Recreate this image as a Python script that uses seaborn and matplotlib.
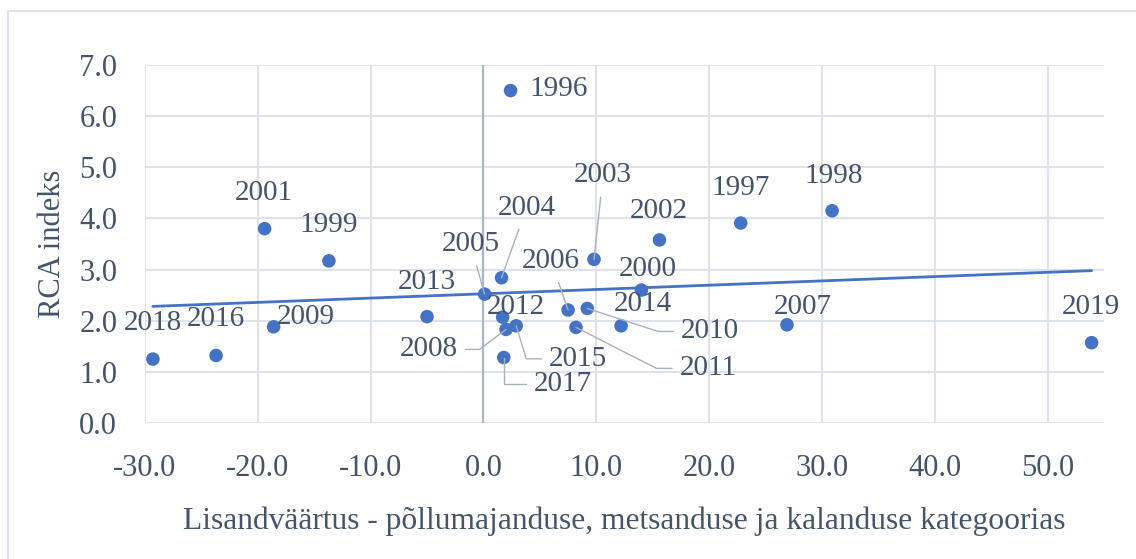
import matplotlib
matplotlib.use('Agg')
import matplotlib.pyplot as plt
import seaborn as sns
import pandas as pd
from matplotlib.patches import Rectangle

sns.set_style('white')
plt.rcParams['font.family'] = ['Liberation Serif', 'DejaVu Serif']

# Andmed: aasta, lisandväärtus (x) ja RCA indeks (y)
years = [1996, 1997, 1998, 1999, 2000, 2001, 2002, 2003, 2004, 2005, 2006, 2007,
         2008, 2009, 2010, 2011, 2012, 2013, 2014, 2015, 2016, 2017, 2018, 2019]
value_added = [2.4, 22.8, 30.9, -13.7, 14.0, -19.4, 15.6, 9.8, 1.6, 0.1, 7.5, 26.9,
               2.0, -18.6, 9.2, 8.2, 1.7, -5.0, 12.2, 2.9, -23.7, 1.8, -29.3, 53.9]
rca_index = [6.50, 3.91, 4.15, 3.17, 2.60, 3.80, 3.58, 3.20, 2.84, 2.52, 2.21, 1.92,
             1.83, 1.88, 2.24, 1.87, 2.07, 2.08, 1.90, 1.90, 1.32, 1.28, 1.25, 1.57]

x_ticks = [-30, -20, -10, 0, 10, 20, 30, 40, 50]
y_ticks = [0, 1, 2, 3, 4, 5, 6, 7]

df = pd.DataFrame({'aasta': years, 'lisandvaartus': value_added, 'rca': rca_index})

# sildi nihe pikslites (dx, dy), kas juhtjoon, juhtjoone nurk
label_place = {
    1996: (48, 2, None), 1997: (0, 35, None), 1998: (2, 35, None),
    1999: (0, 36, None), 2000: (6, 21, None), 2001: (-1, 36, None),
    2002: (-1, 29, None), 2003: (9, 84, 'line'), 2004: (25, 70, 'line'),
    2005: (-14, 50, 'line'), 2006: (-17, 49, 'line'), 2007: (16, 18, None),
    2008: (-77, -20, 37), 2009: (32, 10, None), 2010: (123, -23, -18),
    2011: (132, -41, -27), 2012: (13, 10, None), 2013: (0, 35, None),
    2014: (22, 22, None), 2015: (62, -33, -73), 2016: (0, 36, None),
    2017: (59, -26, 90), 2018: (0, 36, None), 2019: (-1, 36, None),
}

blue = '#4472C4'
text_col = '#44546A'
grid_col = '#DEE2EA'
lead_col = '#A9B1BE'

fig = plt.figure(figsize=(11.36, 5.59), dpi=100)
ax = fig.add_axes([145 / 1136, 1 - 423 / 559, (1104 - 145) / 1136, (423 - 65) / 559])

fig.patches.append(Rectangle((8 / 1136, -0.1), 1.2, 1 - 11 / 559 + 0.1,
                             transform=fig.transFigure, fill=False,
                             edgecolor=grid_col, linewidth=1.5))

sns.regplot(data=df, x='lisandvaartus', y='rca', ax=ax, scatter=False, ci=None,
            truncate=True, line_kws={'color': blue, 'linewidth': 2.0, 'zorder': 3})
sns.scatterplot(data=df, x='lisandvaartus', y='rca', ax=ax, color=blue, s=95,
                edgecolor='none', zorder=4)

for yr, xv, yv in zip(years, value_added, rca_index):
    dx, dy, lead = label_place[yr]
    kw = {}
    if lead == 'line':
        kw['arrowprops'] = dict(arrowstyle='-', color=lead_col, lw=1.0,
                                shrinkA=4, shrinkB=0)
    elif lead is not None:
        rel = (1, 0.5) if dx < 0 else (0, 0.5)
        kw['arrowprops'] = dict(arrowstyle='-', color=lead_col, lw=1.0,
                                shrinkA=3, shrinkB=0, relpos=rel,
                                connectionstyle=f'angle,angleA=0,angleB={lead},rad=0')
    ax.annotate(str(yr), (xv, yv), xytext=(dx, dy), textcoords='offset pixels',
                ha='center', va='center', fontsize=21, color=text_col, zorder=5, **kw)

ax.axvline(0, color='#AEB6C4', linewidth=1.6, zorder=2)

ax.set_xlim(-30, 55)
ax.set_ylim(0, 7)
ax.set_xticks(x_ticks)
ax.set_yticks(y_ticks)
ax.set_xticklabels([f'{v:.1f}' for v in x_ticks])
ax.set_yticklabels([f'{v:.1f}' for v in y_ticks])
ax.grid(True, color=grid_col, linewidth=1.5)
ax.set_axisbelow(True)
for sp in ax.spines.values():
    sp.set_visible(False)
ax.tick_params(length=0, labelsize=22, labelcolor=text_col)
ax.tick_params(axis='y', pad=20)
ax.tick_params(axis='x', pad=22)

ax.set_xlabel('Lisandväärtus - põllumajanduse, metsanduse ja kalanduse kategoorias',
              fontsize=22.7, color=text_col, labelpad=17)
ax.set_ylabel('RCA indeks', fontsize=22, color=text_col, labelpad=9)

fig.savefig('out.png', dpi=100)
